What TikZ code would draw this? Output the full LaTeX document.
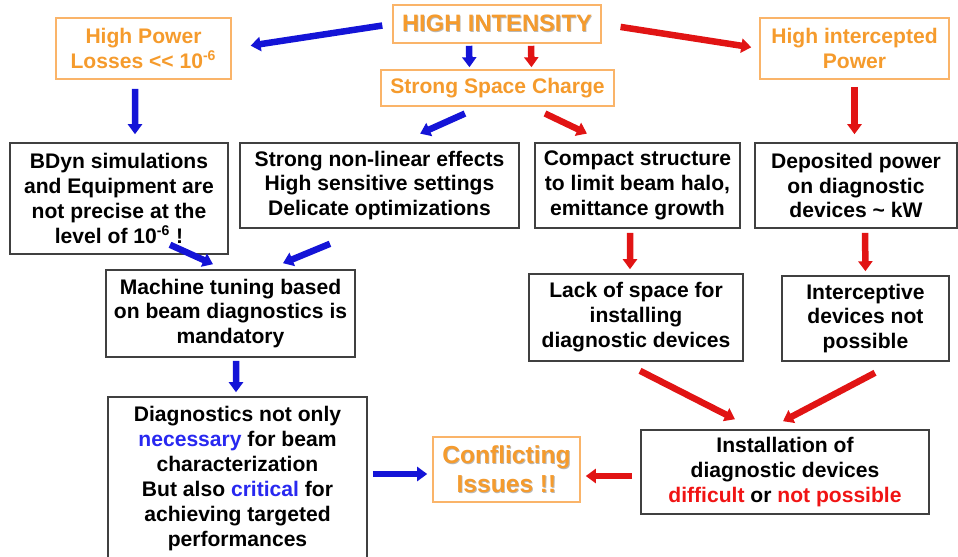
\documentclass[tikz,border=0pt]{standalone}
\usepackage{fontspec}
\setmainfont{Liberation Sans}
\usetikzlibrary{arrows.meta}
\definecolor{txtorange}{RGB}{245,155,45}
\definecolor{boxorange}{RGB}{250,180,105}
\definecolor{arrblue}{RGB}{20,20,215}
\definecolor{arrred}{RGB}{225,20,20}
\definecolor{wordblue}{RGB}{40,40,240}
\definecolor{wordred}{RGB}{240,20,20}
\newcommand\shadowtxt[1]{\rlap{\hspace{0.5pt}\raisebox{-0.5pt}{\color{black!28}#1}}#1}
\tikzset{
  orangebox/.style={draw=boxorange, line width=0.9pt, text=txtorange, align=center, inner sep=0pt,
    font=\bfseries\fontsize{12}{14.2}\selectfont},
  blackbox/.style={draw=black!75, line width=0.9pt, align=center, inner sep=0pt,
    font=\bfseries\fontsize{12}{14.2}\selectfont},
  bluearr/.style={draw=arrblue, line width=1.3mm, -{Triangle[length=2mm,width=2.8mm]}},
  redarr/.style={draw=arrred, line width=1.3mm, -{Triangle[length=2mm,width=2.8mm]}}
}
\begin{document}
\begin{tikzpicture}[x=0.2mm,y=-0.2mm]
  \useasboundingbox (0,0) rectangle (958,556);
  % top row
  \node[orangebox, minimum width=41.6mm, minimum height=7.6mm, font=\bfseries\fontsize{13.5}{16}\selectfont]
    (hi) at (497,24) {\shadowtxt{HIGH INTENSITY}};
  \node[orangebox, minimum width=35mm, minimum height=12.2mm] (loss) at (143.5,48.5)
    {High Power\\Losses {<}{<} 10\textsuperscript{-6}};
  \node[orangebox, minimum width=37.8mm, minimum height=12.2mm] (inter) at (854.5,48.5)
    {High intercepted\\Power};
  \node[orangebox, minimum width=46.6mm, minimum height=7.2mm] (ssc) at (497.5,88)
    {Strong Space Charge};
  % second row
  \node[blackbox, minimum width=43.6mm, minimum height=22.2mm] (bdyn) at (119,198.5)
    {BDyn simulations\\and Equipment are\\not precise at the\\level of 10\textsuperscript{-6} !};
  \node[blackbox, minimum width=55.8mm, minimum height=17mm] (nonlin) at (379.5,185.5)
    {Strong non-linear effects\\High sensitive settings\\Delicate optimizations};
  \node[blackbox, minimum width=41mm, minimum height=17mm] (compact) at (637.5,185.5)
    {Compact structure\\to limit beam halo,\\emittance growth};
  \node[blackbox, minimum width=40.4mm, minimum height=17mm] (depos) at (856,185.5)
    {Deposited power\\on diagnostic\\devices \textasciitilde{} kW};
  % third row
  \node[blackbox, minimum width=49.8mm, minimum height=17.4mm] (machine) at (230.5,313.5)
    {Machine tuning based\\on beam diagnostics is\\mandatory};
  \node[blackbox, minimum width=42.8mm, minimum height=17.4mm] (lack) at (636,317.5)
    {Lack of space for\\installing\\diagnostic devices};
  \node[blackbox, minimum width=33.4mm, minimum height=17mm] (intcp) at (865.5,318.5)
    {Interceptive\\devices not\\possible};
  % bottom row
  \node[blackbox, minimum width=51.8mm, minimum height=32.6mm] (diag) at (237.5,478.5)
    {Diagnostics not only\\\textcolor{wordblue}{necessary} for beam\\characterization\\But also \textcolor{wordblue}{critical} for\\achieving targeted\\performances};
  \node[orangebox, minimum width=29.4mm, minimum height=13mm, font=\bfseries\fontsize{14}{16.5}\selectfont]
    (confl) at (506.5,469.5) {\shadowtxt{Conflicting}\\\shadowtxt{Issues !!}};
  \node[blackbox, minimum width=57.6mm, minimum height=16.8mm] (install) at (785,472)
    {Installation of\\diagnostic devices\\\textcolor{wordred}{difficult} or \textcolor{wordred}{not possible}};

  \draw[bluearr, shorten <=2mm, shorten >=3.8mm] (hi.west) -- (loss.east);
  \draw[redarr, shorten <=3.8mm, shorten >=1.6mm] (hi.east) -- (inter.west);
  \draw[bluearr, shorten <=0.4mm, shorten >=0.4mm] ([xshift=-5.6mm]hi.south) -- ([xshift=-5.6mm]ssc.north);
  \draw[redarr, shorten <=0.4mm, shorten >=0.4mm] ([xshift=6.8mm]hi.south) -- ([xshift=6.8mm]ssc.north);
  \draw[bluearr, shorten <=1.8mm, shorten >=1.6mm] ([xshift=-1.7mm]loss.south) -- ([xshift=3.2mm]bdyn.north);
  \draw[redarr, shorten <=1.4mm, shorten >=1.6mm] (inter.south) -- (inter.south |- depos.north);
  \draw[bluearr, shorten <=3.3mm, shorten >=4.2mm] ([xshift=-3.5mm]ssc.south) -- ([xshift=4.3mm]nonlin.north);
  \draw[redarr, shorten <=3.1mm, shorten >=4mm] ([xshift=6.7mm]ssc.south) -- ([xshift=-6.5mm]compact.north);
  \draw[redarr, shorten <=0.8mm, shorten >=0.8mm] ([xshift=-1.5mm]compact.south) -- ([xshift=-1.2mm]lack.north);
  \draw[redarr, shorten <=0.8mm, shorten >=0.8mm] ([xshift=1.8mm]depos.south) -- (intcp.north);
  \draw[bluearr] ([xshift=10.2mm,yshift=2mm]bdyn.south) -- ([xshift=-3.5mm,yshift=1mm]machine.north);
  \draw[bluearr] ([xshift=-9.9mm,yshift=-3mm]nonlin.south) -- ([xshift=10.5mm,yshift=1.2mm]machine.north);
  \draw[bluearr, shorten <=0.6mm, shorten >=0.8mm] ([xshift=1.1mm]machine.south) -- ([xshift=-0.3mm]diag.north);
  \draw[redarr] ([xshift=0.8mm,yshift=-1.8mm]lack.south) -- ([xshift=-10mm,yshift=2mm]install.north);
  \draw[redarr] ([xshift=1.9mm,yshift=-2.2mm]intcp.south) -- ([xshift=-0.4mm,yshift=1.6mm]install.north);
  \draw[bluearr, shorten <=1mm, shorten >=1mm] ([yshift=-0.9mm]diag.east |- confl.west) -- ([yshift=-0.9mm]confl.west);
  \draw[redarr, shorten <=1.6mm, shorten >=1mm] ([yshift=-1.3mm]install.west |- confl.east) -- ([yshift=-1.3mm]confl.east);
\end{tikzpicture}
\end{document}
